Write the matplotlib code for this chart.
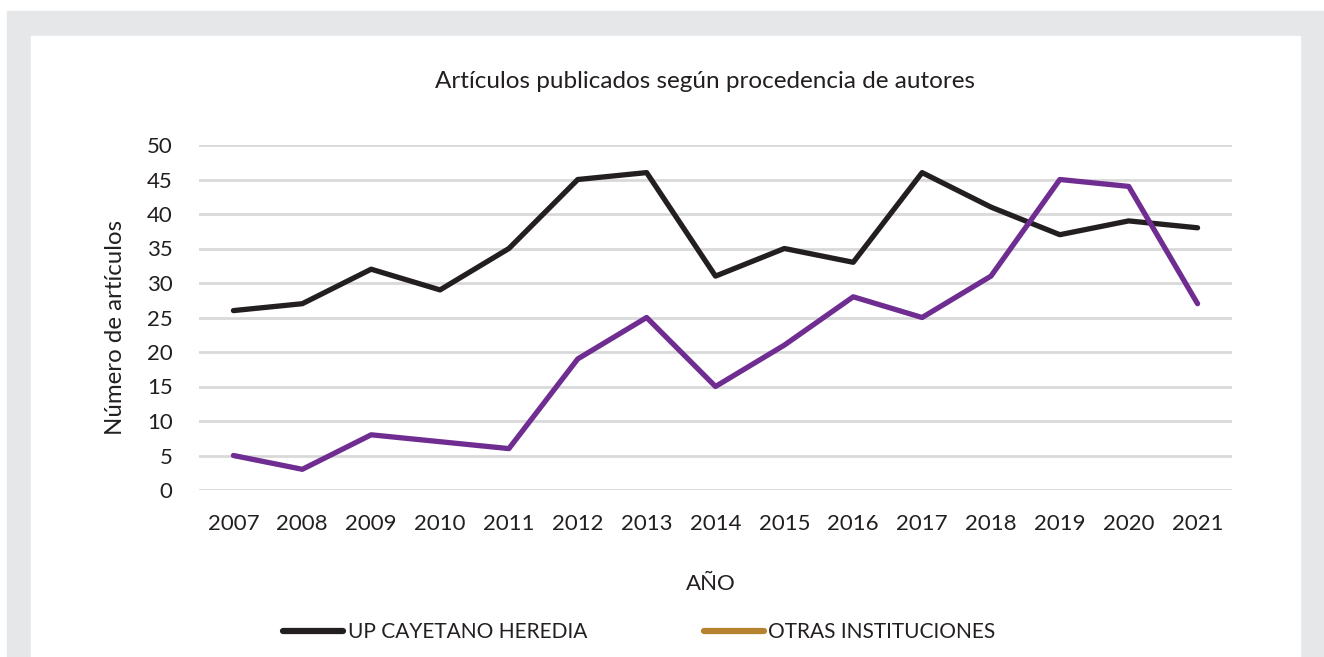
import matplotlib.pyplot as plt
from matplotlib.lines import Line2D
from matplotlib.patches import Rectangle

plt.rcParams['font.family'] = ['Lato', 'DejaVu Sans']

# data
years = ['2007', '2008', '2009', '2010', '2011', '2012', '2013', '2014',
         '2015', '2016', '2017', '2018', '2019', '2020', '2021']
cayetano = [26, 27, 32, 29, 35, 45, 46, 31, 35, 33, 46, 41, 37, 39, 38]
otras = [5, 3, 8, 7, 6, 19, 25, 15, 21, 28, 25, 31, 45, 44, 27]
series_names = ['UP CAYETANO HEREDIA', 'OTRAS INSTITUCIONES']
legend_colors = ['#231f20', '#b5832f']

W, H = 1324, 657
fig = plt.figure(figsize=(W / 100, H / 100), dpi=100)
fig.patch.set_facecolor('white')

# grey frame and white panel behind the chart
fig.patches.append(Rectangle((7 / W, 0), 1 - 7 / W, 1 - 11 / H,
                             transform=fig.transFigure, color='#e6e7e8', zorder=-2))
fig.patches.append(Rectangle((31 / W, 0), (1300 - 31) / W, 1 - 36 / H,
                             transform=fig.transFigure, color='white', zorder=-1))

ax = fig.add_axes([199 / W, 1 - 490 / H, (1232 - 199) / W, (490 - 145) / H])
ax.set_facecolor('none')
x = range(len(years))
ax.plot(x, cayetano, color='#231f20', lw=3.8, solid_capstyle='round', zorder=3)
ax.plot(x, otras, color='#6f2c91', lw=3.8, solid_capstyle='round', zorder=3)

ax.set_xlim(-0.5, len(years) - 0.5)
ax.set_ylim(0, 50)
ax.set_yticks(range(0, 51, 5))
ax.set_xticks(list(x))
ax.set_xticklabels(years)
ax.grid(axis='y', color='#d9d9d9', lw=2)
ax.set_axisbelow(True)
for s in ax.spines.values():
    s.set_visible(False)
ax.tick_params(length=0, labelsize=16, colors='#231f20')
ax.tick_params(axis='x', pad=17)
ax.tick_params(axis='y', pad=19)

fig.text(705 / W, 1 - 82 / H, 'Artículos publicados según procedencia de autores',
         ha='center', va='center', fontsize=17.5, color='#231f20')
fig.text(115 / W, 1 - 327 / H, 'Número de artículos', rotation=90,
         ha='center', va='center', fontsize=17.3, color='#231f20')
fig.text(711 / W, 1 - 584 / H, 'AÑO', ha='center', va='center',
         fontsize=16, color='#231f20')

handles = [Line2D([], [], color=c, lw=4.5, solid_capstyle='round') for c in legend_colors]
fig.legend(handles, series_names, loc='center left', bbox_to_anchor=(283 / W, 1 - 632 / H),
           ncol=2, frameon=False, fontsize=15, handlelength=2.9, handletextpad=0.2,
           columnspacing=5.6, borderpad=0, borderaxespad=0, labelcolor='#231f20')

fig.savefig('out.png', dpi=100)
